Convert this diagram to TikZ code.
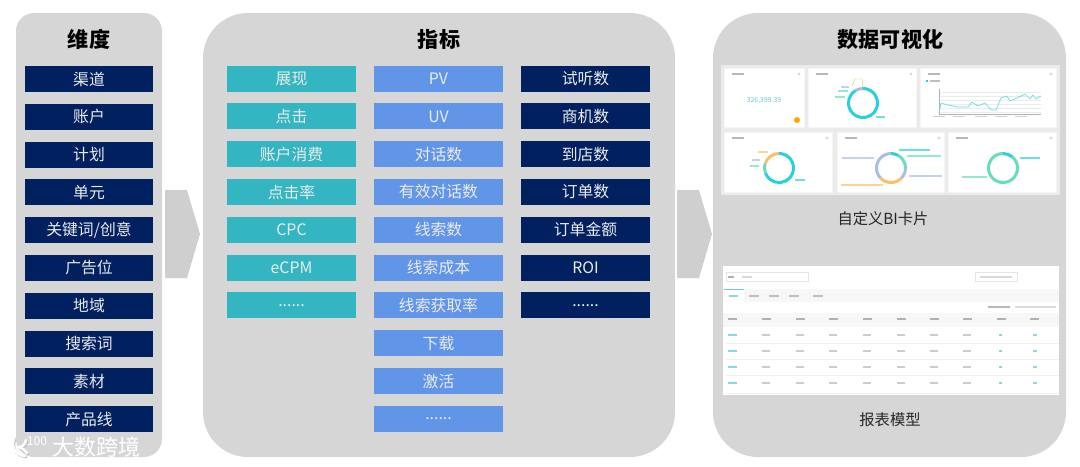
\documentclass[tikz,border=0pt]{standalone}
\usepackage{fontspec}
\setmainfont{Noto Sans CJK SC}

\definecolor{panelgray}{HTML}{D6D6D6}
\definecolor{navybox}{HTML}{002060}
\definecolor{tealbox}{HTML}{33B6C1}
\definecolor{bluebox}{HTML}{6195E8}
\definecolor{ringcyan}{HTML}{27D0E0}
\definecolor{ringgreen}{HTML}{67DDB8}
\definecolor{ringorange}{HTML}{FBC066}
\definecolor{ringblue}{HTML}{A9BEE6}
\newcommand{\moredots}{{......}}
\tikzset{
    panel/.style={fill=panelgray, rounded corners=#1},
    title/.style={font=\fontsize{12}{14}\selectfont\bfseries, text=black},
    metric/.style={minimum width=2.58cm, minimum height=0.52cm, inner sep=0pt, text=white!92!black, font=\fontsize{9}{11}\selectfont},
    caption/.style={font=\fontsize{8.7}{10}\selectfont, text=black!85},
    flow/.style={fill=black!19},
    card/.style={fill=white, draw=black!4},
    bar/.style={fill=black!20},
    tealbar/.style={fill=tealbox!55}
}

\begin{document}
\begin{tikzpicture}[x=0.02cm, y=-0.02cm]
\useasboundingbox (0,0) rectangle (1080,467);
% panels
\fill[panel=0.36cm] (16,13) rectangle (162,457);
\fill[panel=0.9cm] (203,13) rectangle (675,457);
\fill[panel=0.9cm] (713,13) rectangle (1066,457);
\node[title] (dimtitle) at (89,39) {维度};
\node[title] (metrictitle) at (439,39) {指标};
\node[title] (vistitle) at (890.5,39) {数据可视化};
% flow arrows
\foreach \x in {165,677}
    \fill[flow] (\x,190) -- (\x+22,190) -- (\x+35,234) -- (\x+22,278) -- (\x,278) -- cycle;
% boxes
\foreach \i/\t in {0/渠道,1/账户,2/计划,3/单元,4/{关键词/创意},5/广告位,6/地域,7/搜索词,8/素材,9/产品线}
    \node[metric, fill=navybox] (dim\i) at (89,79+37.8*\i) {\t};
\foreach \i/\t in {0/展现,1/点击,2/账户消费,3/点击率,4/CPC,5/eCPM,6/\moredots}
    \node[metric, fill=tealbox] (cost\i) at (291.5,78.6+37.8*\i) {\t};
\foreach \i/\t in {0/PV,1/UV,2/对话数,3/有效对话数,4/线索数,5/线索成本,6/线索获取率,7/下载,8/激活,9/\moredots}
    \node[metric, fill=bluebox] (lead\i) at (438.5,78.6+37.8*\i) {\t};
\foreach \i/\t in {0/试听数,1/商机数,2/到店数,3/订单数,4/订单金额,5/ROI,6/\moredots}
    \node[metric, fill=navybox] (order\i) at (585.5,78.6+37.8*\i) {\t};
% BI cards
\fill[black!8] (721,65) rectangle (1060,195);
\foreach \xa/\ya/\xb/\yb in {724/68/804/127,808/68/916/127,920/68/1056/127,724/132/832/192,837/132/944/192,948/132/1056/192} {
    \fill[card] (\xa,\ya) rectangle (\xb,\yb);
    \fill[black!28] (\xa+8,\ya+5) rectangle (\xa+20,\ya+6.5);
    \fill[black!15] (\xb-5,\ya+6) circle (1.6);
}
\node[font=\fontsize{3.9}{5}\selectfont, text=tealbox!75, inner sep=0pt] (total) at (764,100.5) {326,399.39};
\fill[orange!70!yellow] (797,120) circle (3);
% rings
\foreach \cx/\cy/\a/\b/\c in {863/103/-90/240/ringcyan,863/103/240/270/ringblue,
    779/168/-90/160/ringcyan,779/168/160/195/ringgreen,779/168/195/200/ringblue,779/168/200/270/ringorange,
    891/168/-90/-60/ringcyan,891/168/-60/0/ringgreen,891/168/0/45/ringblue,891/168/45/135/ringorange,891/168/135/270/ringblue,
    1003/168/-90/-50/ringcyan,1003/168/-50/270/ringgreen}
    \draw[\c, line width=0.06cm] (\cx,\cy) ++(\a:14.5) arc[start angle=\a, end angle=\b, radius=14.5];
% ring labels
\foreach \x/\y/\w/\c in {876/117/9/ringcyan,841/87/8/ringblue,838/91/10/ringgreen,835/97/10/ringgreen,
    795/180/10/ringcyan,758/152/10/ringorange,752/160/8/ringblue,750/166/9/ringgreen,
    899/150/31/ringcyan,907/156/34/ringgreen,909/176/33/ringblue,842/158/32/ringblue,841/185/42/ringorange,
    1020/158/20/ringcyan,962/177/25/ringgreen}
    \fill[\c!70] (\x,\y-0.6) rectangle (\x+\w,\y+0.6);
\draw[yellow!80!black, line width=0.2pt] (852,86) -- (855,79) -- (862,79) -- (863,88);
% line chart
\foreach \y in {92,96,100,104,108,112}
    \draw[black!8, line width=0.2pt] (939,\y) -- (1041,\y);
\draw[black!30, line width=0.3pt] (939,89) -- (939,114) -- (1041,114);
\fill[ringcyan] (926,80) rectangle (928,82);
\fill[black!25] (930,80) rectangle (940,82);
\draw[ringcyan!70, line width=0.4pt] (939,114) -- (941,103) -- (948,105) -- (958,107) -- (968,107) -- (972,102) -- (978,106) -- (985,103) -- (991,110) -- (996,110) -- (1001,98) -- (1007,96) -- (1010,101) -- (1017,98) -- (1025,94) -- (1030,99) -- (1033,95) -- (1036,99) -- (1041,96);
\foreach \x in {933,953,975,995,1015}
    \fill[black!18] (\x,116) rectangle (\x+12,117.2);
\node[caption] (bicap) at (883,219) {自定义BI卡片};
% report table
\fill[white] (723,266) rectangle (1059,395);
\draw[black!10, line width=0.2pt] (726,272) rectangle (808,281);
\draw[black!10, line width=0.2pt] (975,272) rectangle (1017,281);
\fill[black!30] (728,275.5) rectangle (734,277.5);
\fill[black!15] (742,275.5) rectangle (752,277.5);
\fill[black!15] (980,275.5) rectangle (1012,277.5);
\fill[black!3] (723,289) rectangle (1059,302);
\fill[white] (724,289) rectangle (744,302);
\draw[tealbox!70, line width=0.3pt] (724,289) -- (744,289);
\fill[tealbar] (729,294.5) rectangle (738,296.5);
\foreach \x in {749,769,789,813}
    \fill[black!25] (\x,294.5) rectangle (\x+10,296.5);
\fill[black!28] (988,306) rectangle (1010,308);
\fill[black!14] (1015,306) rectangle (1056,308);
\fill[black!3] (723,313) rectangle (1059,327);
\foreach \x in {728,762,796,829,863,897,930,963,997,1030}
    \fill[black!30] (\x,318) rectangle (\x+9,320);
\foreach \y in {343,359,375,393}
    \draw[black!6, line width=0.3pt] (726,\y) -- (1059,\y);
\foreach \y in {335,351,367,383} {
    \foreach \x in {762,796,829,863,897,930,963}
        \fill[bar] (\x,\y-1) rectangle (\x+8,\y+1);
    \fill[tealbar] (728,\y-1) rectangle (737,\y+1);
    \fill[tealbar] (999,\y-1) rectangle (1002,\y+1);
    \fill[tealbar] (1033,\y-1) rectangle (1037,\y+1);
}
\node[caption] (tablecap) at (890,420) {报表模型};
% watermark
\foreach \o/\c in {1/black!25,0/white} {
    \draw[\c, line width=0.06cm, line cap=round] (14+\o,438+\o) .. controls (10+\o,447+\o) and (15+\o,454+\o) .. (25+\o,456+\o);
    \draw[\c, line width=0.05cm, line cap=round] (26+\o,440+\o) .. controls (25+\o,445+\o) and (22+\o,447+\o) .. (19+\o,447+\o);
    \draw[\c, line width=0.05cm, line cap=round] (19+\o,447+\o) .. controls (22+\o,448+\o) and (25+\o,450+\o) .. (27+\o,453+\o);
}
\node[text=white, font=\fontsize{7}{8}\selectfont, inner sep=0pt] (logotext) at (37,441) {100};
\node[text=white, font=\fontsize{12.5}{14}\selectfont, inner sep=0pt] (marktext) at (96.5,447) {大数跨境};
\end{tikzpicture}
\end{document}
